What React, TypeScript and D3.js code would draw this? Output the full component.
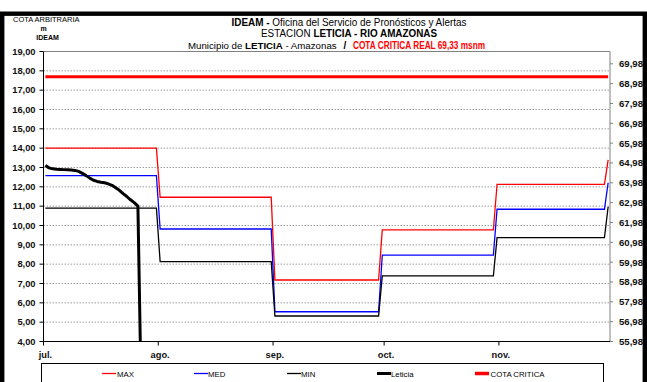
import React from "react";
import * as d3 from "d3";

// ---- data ----
const monthLabels = ["jul.", "ago.", "sep.", "oct.", "nov."];
const monthDays = [31, 31, 30, 31, 30];
// day index at which each monthly level begins (last entry: final point)
const segmentStarts = [0, 31, 62, 91, 122, 152];
const maxValues = [14.0, 11.46, 7.18, 9.77, 12.13, 13.39];
const medValues = [12.58, 9.82, 5.54, 8.47, 10.84, 12.21];
const minValues = [10.9, 8.13, 5.32, 7.39, 9.37, 10.97];
const leticiaValues = [
  13.1, 12.98, 12.93, 12.91, 12.9, 12.89, 12.88, 12.87, 12.85, 12.8, 12.7,
  12.58, 12.45, 12.34, 12.28, 12.24, 12.21, 12.15, 12.08, 11.95, 11.82,
  11.65, 11.5, 11.33, 11.18, 11.0, 0,
];
const cotaCritica = 69.33;
const leftTicks = [4, 5, 6, 7, 8, 9, 10, 11, 12, 13, 14, 15, 16, 17, 18, 19];
const rightTicks = [
  55.98, 56.98, 57.98, 58.98, 59.98, 60.98, 61.98, 62.98, 63.98, 64.98,
  65.98, 66.98, 67.98, 68.98, 69.98,
];
const legendItems = [
  { label: "MAX", color: "#ff0000", w: 1.3 },
  { label: "MED", color: "#0000ff", w: 1.3 },
  { label: "MIN", color: "#000000", w: 1.3 },
  { label: "Leticia", color: "#000000", w: 3 },
  { label: "COTA CRITICA", color: "#ff0000", w: 3.5 },
];

const W = 647;
const H = 382;
const PL = 43.5, PR = 610, PT = 51.5, PB = 341.5;
const totalDays = d3.sum(monthDays);

const fmt = (v: number) => v.toFixed(2).replace(".", ",");

function expand(vals: number[]) {
  const out: { d: number; v: number }[] = [];
  for (let d = 0; d < totalDays; d++) {
    let seg = 0;
    for (let i = 0; i < segmentStarts.length; i++) if (segmentStarts[i] <= d) seg = i;
    out.push({ d, v: vals[seg] });
  }
  return out;
}

export default function App() {
  const x = d3.scaleLinear().domain([0, totalDays]).range([PL, PR]);
  const y = d3.scaleLinear().domain([4, 19]).range([PB, PT]);
  const y2 = d3.scaleLinear().domain([55.98, 70.6]).range([PB, PT]);
  const cx = (d: number) => x(d + 0.5);

  const line = d3
    .line<{ d: number; v: number }>()
    .x((p) => cx(p.d))
    .y((p) => y(p.v));

  const monthStarts = monthDays.map((_, i) => d3.sum(monthDays.slice(0, i)));
  const series = [
    { data: expand(maxValues), color: "#ff0000" },
    { data: expand(medValues), color: "#0000ff" },
    { data: expand(minValues), color: "#000000" },
  ];
  const leticia = leticiaValues.map((v, d) => ({ d, v }));
  const legendX = [102, 194, 287, 377, 475];
  const legendTextX = [117, 208, 301, 391, 490.5];

  return (
    <div style={{ position: "absolute", left: 0, top: 0 }}>
      <svg width={W} height={H} style={{ display: "block", fontFamily: "'Liberation Sans', Arial, sans-serif" }}>
        <rect x={0} y={0} width={W} height={H} fill="#fff" />
        <defs>
          <clipPath id="plot">
            <rect x={PL} y={PT} width={PR - PL} height={PB - PT} />
          </clipPath>
        </defs>
        {/* gridlines */}
        {leftTicks.slice(1, -1).map((t) => (
          <line key={t} x1={PL} x2={PR} y1={y(t)} y2={y(t)} stroke="#a0a0a0" strokeWidth={1} strokeDasharray="1.5 1.5" />
        ))}
        {/* plot border */}
        <line x1={PL} x2={PR} y1={PT} y2={PT} stroke="#808080" />
        <line x1={PR} x2={PR} y1={PT} y2={PB} stroke="#808080" />
        {/* right ticks */}
        {rightTicks.map((t) => (
          <g key={t}>
            <line x1={PR} x2={PR + 3} y1={y2(t)} y2={y2(t)} stroke="#808080" />
            <text x={619} y={y2(t)} dy="0.35em" fontSize={9.6} fontWeight="bold" fill="#111">{fmt(t)}</text>
          </g>
        ))}
        {/* left axis */}
        <line x1={PL} x2={PL} y1={PT} y2={PB} stroke="#000" />
        {leftTicks.map((t) => (
          <g key={t}>
            <line x1={PL - 4} x2={PL} y1={y(t)} y2={y(t)} stroke="#000" />
            <text x={35.5} y={y(t)} dy="0.35em" textAnchor="end" fontSize={9.3} fontWeight="bold" fill="#111">{fmt(t)}</text>
          </g>
        ))}
        {/* x axis */}
        <line x1={PL} x2={PR} y1={PB} y2={PB} stroke="#000" />
        {monthStarts.map((s, i) => (
          <g key={i}>
            <line x1={x(s)} x2={x(s)} y1={PB} y2={PB + 4} stroke="#000" />
            <text x={cx(s)} y={357.5} textAnchor="middle" fontSize={9.3} fontWeight="bold" fill="#111">{monthLabels[i]}</text>
          </g>
        ))}
        {/* series */}
        <g clipPath="url(#plot)">
          {series.map((s, i) => (
            <path key={i} d={line(s.data) || ""} fill="none" stroke={s.color} strokeWidth={1.3} />
          ))}
          <line x1={cx(0)} x2={cx(totalDays - 1)} y1={y2(cotaCritica)} y2={y2(cotaCritica)} stroke="#ff0000" strokeWidth={3} />
          <path d={line(leticia) || ""} fill="none" stroke="#000" strokeWidth={3} strokeLinejoin="round" />
        </g>
        {/* titles */}
        <text x={349} y={26} textAnchor="middle" fontSize={10} fill="#000" textLength={235} lengthAdjust="spacingAndGlyphs">
          <tspan fontWeight="bold">IDEAM - </tspan>Oficina del Servicio de Pronósticos y Alertas
        </text>
        <text x={349} y={37} textAnchor="middle" fontSize={10} fill="#000" textLength={176} lengthAdjust="spacingAndGlyphs">
          ESTACION <tspan fontWeight="bold">LETICIA - RIO AMAZONAS</tspan>
        </text>
        <text x={188} y={48.5} fontSize={9.7} fill="#000">
          Municipio de <tspan fontWeight="bold">LETICIA</tspan> - Amazonas
        </text>
        <text x={345} y={48.5} textAnchor="middle" fontSize={10} fontWeight="bold" fill="#000">/</text>
        <text x={353} y={48.5} fontSize={10} fontWeight="bold" fill="#ff0000" textLength={132} lengthAdjust="spacingAndGlyphs">
          COTA CRITICA REAL 69,33 msnm
        </text>
        <text x={13} y={22} fontSize={7.5} fill="#000">COTA ARBITRARIA</text>
        <text x={43.5} y={31} textAnchor="middle" fontSize={7} fontWeight="bold" fill="#000">m</text>
        <text x={47.5} y={39.5} textAnchor="middle" fontSize={7} fontWeight="bold" fill="#000">IDEAM</text>
        {/* legend */}
        <rect x={41.5} y={363.5} width={562} height={30} fill="none" stroke="#000" />
        {legendItems.map((it, i) => (
          <g key={it.label}>
            <line x1={legendX[i]} x2={legendX[i] + 14} y1={373.5} y2={373.5} stroke={it.color} strokeWidth={it.w} />
            <text x={legendTextX[i]} y={376.5} fontSize={7.8} fill="#000">{it.label}</text>
          </g>
        ))}
        {/* outer frame */}
        <rect x={2.2} y={13.7} width={642.6} height={400} fill="none" stroke="#000" strokeWidth={4.4} />
      </svg>
    </div>
  );
}
